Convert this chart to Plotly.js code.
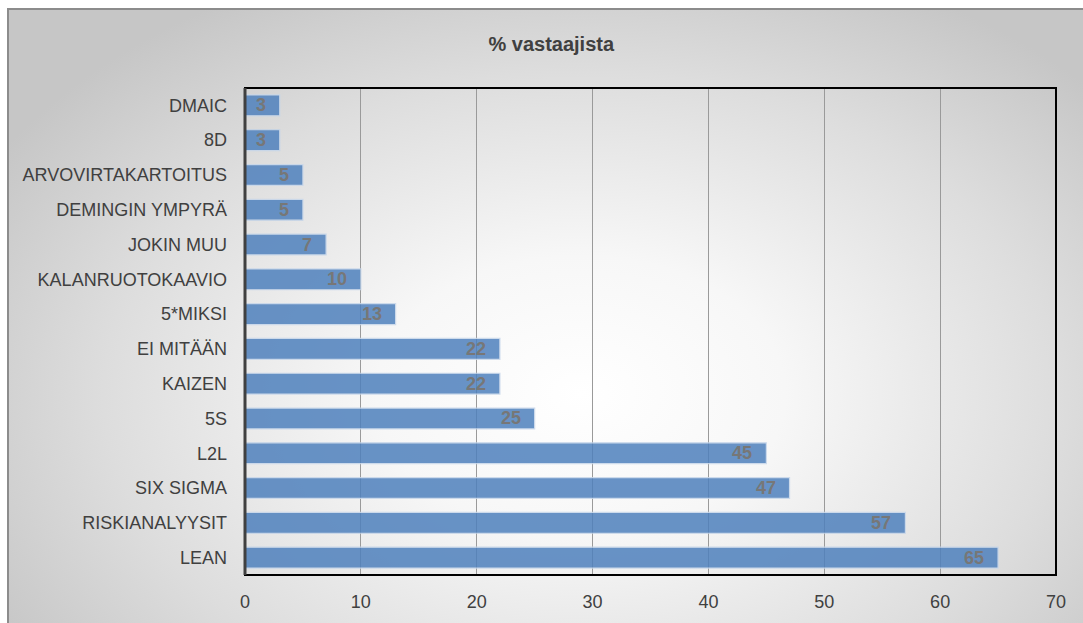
<!DOCTYPE html>
<html>
<head>
<meta charset="utf-8">
<script src="https://cdn.plot.ly/plotly-3.0.1.min.js"></script>
<style>
  html, body { margin: 0; padding: 0; background: #ffffff; }
  #wrap { position: relative; width: 1083px; height: 623px; overflow: hidden; }
  #bg {
    position: absolute; left: 7px; top: 8px; width: 1100px; height: 640px;
    border-left: 2px solid #8c8c8c; border-top: 2px solid #8c8c8c;
    background: radial-gradient(ellipse 62% 72% at 52% 60%, #ffffff 0%, #f7f7f7 30%, #dddddd 70%, #c6c6c6 100%);
  }
  #chart { position: absolute; left: 0; top: 0; width: 1083px; height: 623px; }
</style>
</head>
<body>
<div id="wrap">
  <div id="bg"></div>
  <div id="chart"></div>
</div>
<script>
// Methods in use, top to bottom, with share of respondents (%)
const methods = ["DMAIC", "8D", "ARVOVIRTAKARTOITUS", "DEMINGIN YMPYRÄ", "JOKIN MUU",
                 "KALANRUOTOKAAVIO", "5*MIKSI", "EI MITÄÄN", "KAIZEN", "5S",
                 "L2L", "SIX SIGMA", "RISKIANALYYSIT", "LEAN"];
const shares = [3, 3, 5, 5, 7, 10, 13, 22, 22, 25, 45, 47, 57, 65];
const xTicks = [0, 10, 20, 30, 40, 50, 60, 70];
const chartTitle = "% vastaajista";

const narrow = "'Liberation Sans Narrow', 'Arial Narrow', 'Liberation Sans', sans-serif";

const trace = {
  type: "bar",
  orientation: "h",
  y: methods,
  x: shares,
  width: 0.6,
  marker: {
    color: "#4F81BD",
    opacity: 0.85,
    line: { color: "#c6d6ea", width: 1.2 }
  },
  hoverinfo: "x+y"
};

// value labels just inside the end of each bar
const labels = methods.map((m, i) => ({
  x: shares[i], y: m, xref: "x", yref: "y",
  text: String(shares[i]), showarrow: false,
  xanchor: "right", yanchor: "middle", xshift: -12,
  font: { family: narrow, size: 18, color: "#777777", weight: "bold" }
}));

const layout = {
  width: 1083, height: 623,
  paper_bgcolor: "rgba(0,0,0,0)",
  plot_bgcolor: "rgba(0,0,0,0)",
  margin: { l: 245, r: 27, t: 88, b: 48 },
  showlegend: false,
  bargap: 0.4,
  title: {
    text: "<b>" + chartTitle + "</b>",
    x: 0.509, xref: "container", xanchor: "center",
    y: 0.929, yref: "container", yanchor: "middle",
    font: { family: "'Liberation Sans', Arial, sans-serif", size: 20, color: "#404040" }
  },
  xaxis: {
    range: [0, 70],
    tickvals: xTicks,
    ticktext: xTicks.map(String),
    showgrid: true,
    gridcolor: "#9a9a9a",
    gridwidth: 1,
    zeroline: false,
    showline: false,
    ticks: "",
    ticklabelstandoff: 14,
    tickfont: { family: narrow, size: 18, color: "#404040" },
    fixedrange: true
  },
  yaxis: {
    type: "category",
    categoryorder: "array",
    categoryarray: methods,
    autorange: "reversed",
    showgrid: false,
    zeroline: false,
    showline: false,
    ticks: "",
    ticklabelstandoff: 17,
    tickfont: { family: narrow, size: 18, color: "#404040" },
    fixedrange: true
  },
  shapes: [
    { type: "rect", xref: "paper", yref: "paper", x0: 0, x1: 1, y0: 0, y1: 1,
      line: { color: "#000000", width: 2 }, fillcolor: "rgba(0,0,0,0)", layer: "above" },
    { type: "line", xref: "paper", yref: "paper", x0: 0, x1: 0, y0: 0, y1: 1,
      line: { color: "#404040", width: 3 }, layer: "above" }
  ],
  annotations: labels
};

Plotly.newPlot("chart", [trace], layout, { displayModeBar: false, staticPlot: true });
</script>
</body>
</html>
